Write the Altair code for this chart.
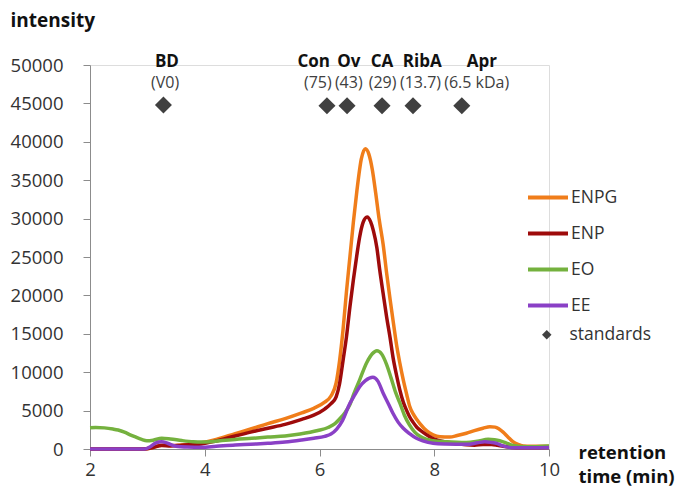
import altair as alt
import pandas as pd

# ---------------- data ----------------
ENPG_t = [2.0, 2.9, 3.05, 3.2, 3.3, 3.45, 3.7, 3.94, 4.2, 4.53, 4.8, 5.1, 5.4, 5.69, 5.9, 6.09, 6.2, 6.29,
          6.35, 6.41, 6.47, 6.53, 6.59, 6.65, 6.73, 6.80, 6.86, 6.92, 6.98, 7.04, 7.11, 7.17, 7.23, 7.29,
          7.34, 7.40, 7.46, 7.52, 7.57, 7.63, 7.70, 7.75, 7.87, 7.98, 8.1, 8.27, 8.4, 8.56, 8.7, 8.85,
          8.97, 9.06, 9.13, 9.2, 9.28, 9.37, 9.46, 9.55, 9.7, 10.0]
ENPG_v = [0, 0, 100, 450, 520, 450, 600, 820, 1250, 2000, 2600, 3300, 3950, 4700, 5300, 6100, 6900, 8600,
          11500, 15500, 20500, 25000, 29500, 33500, 37800, 39100, 38400, 36400, 33300, 29900, 26600, 22900,
          19500, 16300, 13700, 11200, 9000, 7100, 5600, 4600, 3800, 3300, 2350, 1850, 1600, 1550, 1750,
          2050, 2400, 2700, 2900, 2850, 2600, 2200, 1600, 950, 600, 400, 350, 350]

ENP_t = [2.0, 2.95, 3.1, 3.25, 3.4, 3.6, 3.94, 4.2, 4.53, 4.8, 5.1, 5.4, 5.69, 5.9, 6.09, 6.2, 6.29, 6.35,
         6.41, 6.47, 6.53, 6.59, 6.65, 6.70, 6.76, 6.83, 6.89, 6.94, 7.0, 7.05, 7.11, 7.17, 7.23, 7.28,
         7.34, 7.40, 7.46, 7.52, 7.57, 7.63, 7.7, 7.8, 7.9, 8.0, 8.2, 8.4, 8.56, 8.7, 8.85, 9.0, 9.1, 9.2,
         9.35, 9.5, 10.0]
ENP_v = [0, 0, 200, 450, 400, 500, 650, 1050, 1700, 2200, 2700, 3200, 3850, 4400, 5200, 5900, 6800, 8500,
         11500, 14600, 18500, 22000, 25200, 27600, 29500, 30200, 29600, 28400, 26200, 23300, 20200, 17200,
         14500, 12000, 9700, 7700, 6100, 5000, 4200, 3500, 2800, 2200, 1700, 1300, 900, 700, 550, 500, 600,
         600, 500, 350, 200, 150, 200]

EO_t = [2.0, 2.1, 2.25, 2.4, 2.49, 2.6, 2.7, 2.78, 2.9, 2.99, 3.1, 3.25, 3.4, 3.6, 3.8, 3.94, 4.1, 4.3,
        4.53, 4.82, 5.1, 5.4, 5.66, 5.97, 6.15, 6.27, 6.35, 6.45, 6.53, 6.6, 6.7, 6.82, 6.92, 7.0, 7.08,
        7.17, 7.25, 7.33, 7.40, 7.48, 7.57, 7.66, 7.75, 7.87, 7.98, 8.2, 8.56, 8.75, 8.94, 9.05, 9.14,
        9.25, 9.37, 9.5, 9.72, 10.0]
EO_v = [2780, 2800, 2750, 2600, 2470, 2200, 1850, 1600, 1250, 1080, 1150, 1390, 1300, 1100, 950, 910, 950,
        1100, 1250, 1390, 1550, 1700, 1950, 2400, 2800, 3300, 3900, 4800, 5800, 7200, 9000, 11200, 12400,
        12800, 12400, 11000, 9200, 7300, 6000, 4400, 3100, 2200, 1650, 1250, 1080, 950, 850, 1000, 1260,
        1200, 1080, 800, 450, 330, 300, 400]

EE_t = [2.0, 2.95, 3.05, 3.15, 3.25, 3.35, 3.5, 3.7, 3.94, 4.2, 4.53, 4.8, 5.1, 5.4, 5.69, 5.9, 6.09, 6.2,
        6.3, 6.4, 6.53, 6.62, 6.70, 6.8, 6.93, 7.02, 7.11, 7.2, 7.28, 7.37, 7.46, 7.57, 7.69, 7.8, 7.98,
        8.2, 8.56, 8.75, 8.88, 9.0, 9.1, 9.2, 9.37, 9.6, 10.0]
EE_v = [0, 0, 300, 800, 950, 750, 350, 250, 220, 350, 520, 620, 740, 900, 1170, 1400, 1650, 1950, 2600,
        3700, 5950, 7100, 8100, 8900, 9340, 8800, 7250, 5900, 4650, 3500, 2700, 2000, 1390, 1050, 740, 650,
        610, 800, 950, 850, 700, 400, 170, 150, 200]

series_names = ["ENPG", "ENP", "EO", "EE"]
series_colors = ["#F07D1A", "#9E0B0B", "#74B13E", "#8A40C6"]
std_color = "#404040"

# standards (protein markers)
std_names = ["BD", "Con", "Ov", "CA", "RibA", "Apr"]
std_sub = ["(V0)", "(75)", "(43)", "(29)", "(13.7)", "(6.5 kDa)"]
std_x = [3.28, 6.13, 6.48, 7.09, 7.63, 8.48]
std_y = [44800, 44700, 44700, 44700, 44700, 44700]
name_x = [3.34, 5.90, 6.51, 7.09, 7.79, 8.83]
name_y = 50400
sub_x = [3.31, 5.97, 6.51, 7.10, 7.76, 8.74]
sub_y = 47600

x_ticks = [2, 4, 6, 8, 10]
y_ticks = [0, 5000, 10000, 15000, 20000, 25000, 30000, 35000, 40000, 45000, 50000]

# ---------------- tables ----------------
rows = []
for name, ts, vs in zip(series_names, [ENPG_t, ENP_t, EO_t, EE_t], [ENPG_v, ENP_v, EO_v, EE_v]):
    for t, v in zip(ts, vs):
        rows.append({"series": name, "t": t, "v": v})
lines_df = pd.DataFrame(rows)

std_df = pd.DataFrame({"kind": ["standards"] * len(std_x), "t": std_x, "v": std_y})
name_df = pd.DataFrame({"label": std_names, "t": name_x, "v": [name_y] * len(std_names)})
sub_df = pd.DataFrame({"label": std_sub, "t": sub_x, "v": [sub_y] * len(std_sub)})

FONT = "Open Sans"

x_enc = alt.X("t:Q", scale=alt.Scale(domain=[2, 10], nice=False, zero=False),
              axis=alt.Axis(values=x_ticks, format="d", grid=False, labelFontSize=18.5, labelFont=FONT,
                            labelColor="#333333", domainColor="#8c8c8c", tickColor="#8c8c8c",
                            tickSize=7, labelPadding=4, labelFlush=False, labelOverlap=False,
                            title=["retention", "time (min)"], titleFont=FONT, titleFontSize=18.5,
                            titleFontWeight="bold", titleColor="#111111", titleAlign="left",
                            titleAnchor="start", titleX=488, titleY=9, titleBaseline="alphabetic",
                            titleLineHeight=24))
y_enc = alt.Y("v:Q", scale=alt.Scale(domain=[0, 50000], nice=False),
              axis=alt.Axis(values=y_ticks, format="d", grid=False, labelFontSize=18.5, labelFont=FONT,
                            labelColor="#333333", domainColor="#8c8c8c", tickColor="#8c8c8c",
                            tickSize=7, labelPadding=20, labelOverlap=False, labelFlush=False,
                            title="intensity", titleFont=FONT,
                            titleFontSize=19, titleFontWeight="bold", titleColor="#111111",
                            titleAngle=0, titleAlign="left", titleX=-80, titleY=-45,
                            titleBaseline="middle"))

color_legend = alt.Legend(
    title=None, orient="none", legendX=436, legendY=110.5, padding=0,
    symbolType="stroke", symbolSize=1600, symbolStrokeWidth=4, symbolOpacity=1,
    labelFont=FONT, labelFontSize=17.5, labelColor="#333333", labelOffset=1,
    rowPadding=5,
)
shape_legend = alt.Legend(
    title=None, orient="none", legendX=436, legendY=261, padding=0,
    symbolSize=90, symbolFillColor=std_color, symbolStrokeColor=std_color, symbolStrokeWidth=0,
    symbolOpacity=1,
    labelFont=FONT, labelFontSize=17.5, labelColor="#333333", labelOffset=14, symbolOffset=12,
)

lines = alt.Chart(lines_df).mark_line(strokeWidth=3.5, interpolate="monotone").encode(
    x=x_enc, y=y_enc,
    color=alt.Color("series:N", scale=alt.Scale(domain=series_names, range=series_colors),
                    legend=color_legend, sort=series_names),
)

points = alt.Chart(std_df).mark_point(shape="diamond", filled=True, size=290, opacity=1).encode(
    x=x_enc, y=y_enc,
    color=alt.value(std_color),
    shape=alt.Shape("kind:N", scale=alt.Scale(domain=["standards"], range=["diamond"]),
                    legend=shape_legend),
)

names = alt.Chart(name_df).mark_text(font=FONT, fontSize=17, fontWeight="bold", color="#111111",
                                      baseline="middle", align="center").encode(
    x=x_enc, y=y_enc, text="label:N")

subs = alt.Chart(sub_df).mark_text(font=FONT, fontSize=16, color="#404040",
                                    baseline="middle", align="center").encode(
    x=x_enc, y=y_enc, text="label:N")

chart = alt.layer(lines, points, names, subs).properties(
    width=459, height=384,
    autosize=alt.AutoSizeParams(type="none"),
    padding={"left": 90, "top": 65, "right": 132, "bottom": 37},
).configure_view(stroke=None).configure(background="white")

chart.save("out.html", embed_options={"renderer": "svg", "actions": False})
